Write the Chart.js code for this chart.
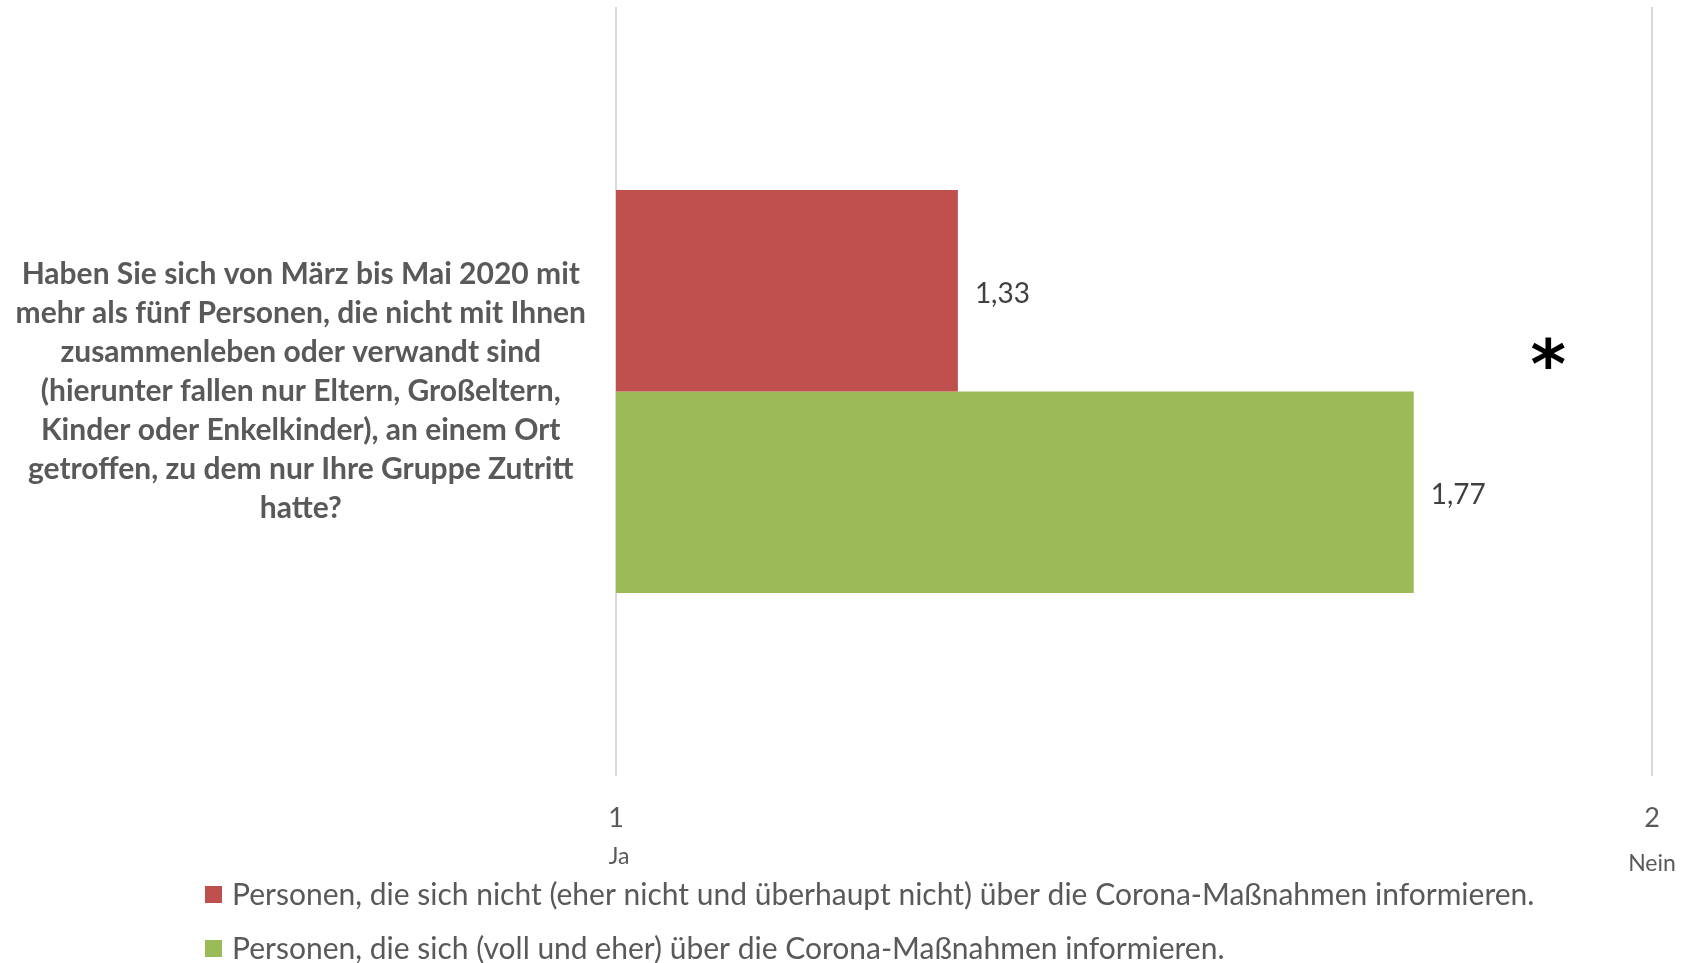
<!DOCTYPE html>
<html>
<head>
<meta charset="utf-8">
<script src="https://cdn.jsdelivr.net/npm/chart.js@4/dist/chart.umd.min.js"></script>
<style>
html,body{margin:0;padding:0;background:#fff;}
#wrap{width:1689px;height:963px;position:relative;}
</style>
</head>
<body>
<div id="wrap"><canvas id="c" width="1689" height="963"></canvas></div>
<script>
// ---- data ----
const categoryLines = [
  "Haben Sie sich von März bis Mai 2020 mit",
  "mehr als fünf Personen, die nicht mit Ihnen",
  "zusammenleben oder verwandt sind",
  "(hierunter fallen nur Eltern, Großeltern,",
  "Kinder oder Enkelkinder), an einem Ort",
  "getroffen, zu dem nur Ihre Gruppe Zutritt",
  "hatte?"
];
const seriesNames = [
  "Personen, die sich nicht (eher nicht und überhaupt nicht) über die Corona-Maßnahmen informieren.",
  "Personen, die sich (voll und eher) über die Corona-Maßnahmen informieren."
];
const seriesNotInformed = [1.33];
const seriesInformed = [1.77];
const xTickValues = [1, 2];
const xTickLabels = ["1", "2"];
const xTickSubLabels = ["Ja", "Nein"];
const significanceMark = "*";

const FONT = "Lato, 'Open Sans', sans-serif";
const TEXT = "#595959";
const colors = ["#C0504D", "#9BBB59"];

const extras = {
  id: 'extras',
  afterDraw(chart) {
    const ctx = chart.ctx;
    const xs = chart.scales.x;
    ctx.save();
    // value labels
    ctx.font = "28px " + FONT;
    ctx.fillStyle = "#404040";
    ctx.textBaseline = "middle";
    ctx.textAlign = "left";
    chart.data.datasets.forEach((ds, i) => {
      const meta = chart.getDatasetMeta(i);
      meta.data.forEach((bar, j) => {
        const v = ds.data[j];
        ctx.fillText(v.toFixed(2).replace('.', ','), bar.x + 17, bar.y + 3);
      });
    });
    // sub tick labels
    ctx.font = "23px " + FONT;
    ctx.fillStyle = TEXT;
    ctx.textAlign = "center";
    xTickValues.forEach((v, i) => {
      const px = xs.getPixelForValue(v);
      ctx.fillText(xTickSubLabels[i], px + (i === 0 ? 3 : 0), xs.top + (i === 0 ? 81 : 88));
    });
    // significance asterisk
    const m0 = chart.getDatasetMeta(0).data[0];
    ctx.font = "bold 68px 'DejaVu Sans', sans-serif";
    ctx.fillStyle = "#000";
    ctx.textAlign = "center";
    ctx.textBaseline = "alphabetic";
    const mm = ctx.measureText(significanceMark);
    const cy = m0.y + m0.height / 2 - 39;
    ctx.fillText(significanceMark, xs.getPixelForValue(1.9), cy + (mm.actualBoundingBoxAscent - mm.actualBoundingBoxDescent) / 2);
    // legend
    ctx.font = "30px " + FONT;
    ctx.textAlign = "left";
    ctx.textBaseline = "middle";
    chart.data.datasets.forEach((ds, i) => {
      const y = 895 + i * 54;
      ctx.fillStyle = ds.backgroundColor;
      ctx.fillRect(205, y - 9, 17, 17);
      ctx.fillStyle = TEXT;
      ctx.fillText(ds.label, 232, y);
    });
    ctx.restore();
  }
};

new Chart(document.getElementById('c'), {
  type: 'bar',
  data: {
    labels: [categoryLines],
    datasets: [
      { label: seriesNames[0], data: seriesNotInformed, backgroundColor: colors[0] },
      { label: seriesNames[1], data: seriesInformed, backgroundColor: colors[1] }
    ]
  },
  options: {
    indexAxis: 'y',
    responsive: false,
    animation: false,
    devicePixelRatio: 1,
    layout: { padding: { top: 7, right: 37, bottom: 0, left: 0 } },
    datasets: { bar: { barPercentage: 1, categoryPercentage: 0.524 } },
    plugins: { legend: { display: false }, tooltip: { enabled: false } },
    scales: {
      x: {
        type: 'linear', min: 1, max: 2, beginAtZero: false,
        afterBuildTicks(scale) { scale.ticks = xTickValues.map(v => ({ value: v })); },
        afterFit(scale) { scale.height = 187; },
        ticks: {
          callback(v) { const i = xTickValues.indexOf(v); return i >= 0 ? xTickLabels[i] : ''; },
          font: { family: FONT, size: 27 }, color: TEXT, padding: 26, maxRotation: 0
        },
        grid: { color: '#d9d9d9', lineWidth: 2, drawTicks: false },
        border: { display: false }
      },
      y: {
        grid: { display: false, drawTicks: false },
        border: { display: false },
        afterFit(scale) { scale.width = 616; scale.paddingTop = 0; scale.paddingBottom = 0; },
        ticks: {
          crossAlign: 'center', padding: 30, color: TEXT,
          font: { family: FONT, size: 30, weight: 'bold', lineHeight: 1.3 }
        }
      }
    }
  },
  plugins: [extras]
});
</script>
</body>
</html>
